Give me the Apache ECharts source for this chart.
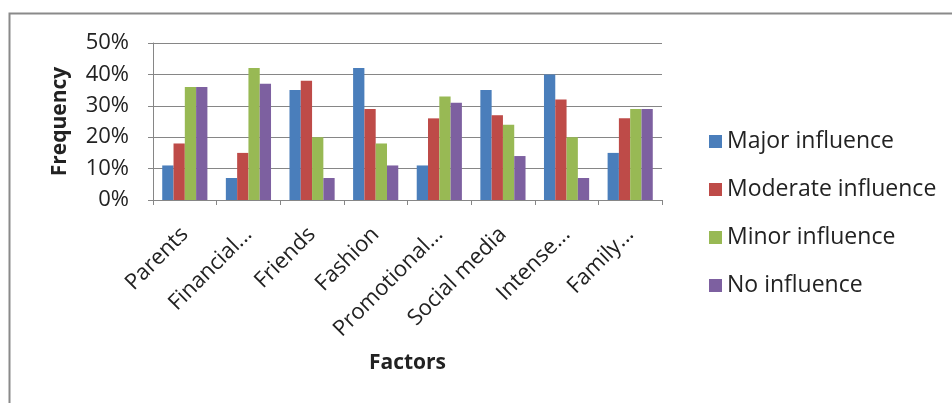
<!DOCTYPE html>
<html><head><meta charset="utf-8">
<script src="https://cdn.jsdelivr.net/npm/echarts@6/dist/echarts.min.js"></script>
<style>html,body{margin:0;padding:0;background:#fff}#c{width:952px;height:403px}</style>
</head><body><div id="c"></div>
<script>
const categories = ['Parents','Financial...','Friends','Fashion','Promotional...','Social media','Intense...','Family...'];
const major = [11, 7, 35, 42, 11, 35, 40, 15];
const moderate = [18, 15, 38, 29, 26, 27, 32, 26];
const minor = [36, 42, 20, 18, 33, 24, 20, 29];
const none = [36, 37, 7, 11, 31, 14, 7, 29];
const seriesNames = ['Major influence','Moderate influence','Minor influence','No influence'];
const yTicks = [0, 10, 20, 30, 40, 50];

const colors = ['#4a7ebb','#be4b48','#98b954','#7d60a0'];
const font = '"Open Sans", sans-serif';
const chart = echarts.init(document.getElementById('c'), null, {renderer:'canvas'});
const mk = (name, data, i) => ({name, type:'bar', data, barGap:'0%', barCategoryGap:'29%', itemStyle:{color:colors[i]}});
chart.setOption({
  animation:false,
  graphic:[{type:'rect', shape:{x:9.5,y:13.5,width:1000,height:500}, style:{fill:'none', stroke:'#8a8a8a', lineWidth:2}}],
  grid:{left:153, right:290, top:43, bottom:203},
  legend:{orient:'vertical', left:704, top:125, itemGap:25, itemWidth:13, itemHeight:13, icon:'rect',
    textStyle:{fontFamily:font, fontSize:23, color:'#222'}, data:seriesNames},
  xAxis:{type:'category', data:categories, name:'Factors', nameLocation:'middle', nameGap:153,
    nameTextStyle:{fontFamily:font, fontSize:21, fontWeight:'bold', color:'#222'},
    axisLine:{lineStyle:{color:'#868686'}}, axisTick:{show:true, length:5, lineStyle:{color:'#868686'}},
    axisLabel:{rotate:45, fontFamily:font, fontSize:22, color:'#222', margin:31}},
  yAxis:{type:'value', min:0, max:50, interval:10, name:'Frequency', nameLocation:'middle', nameGap:82,
    nameTextStyle:{fontFamily:font, fontSize:21, fontWeight:'bold', color:'#222'},
    axisLine:{show:true, lineStyle:{color:'#868686'}}, axisTick:{show:true, length:5, lineStyle:{color:'#868686'}},
    splitLine:{lineStyle:{color:'#868686'}},
    axisLabel:{formatter:v => yTicks.includes(v) ? v + '%' : '', fontFamily:font, fontSize:22, color:'#222', margin:24}},
  series:[mk(seriesNames[0], major, 0), mk(seriesNames[1], moderate, 1), mk(seriesNames[2], minor, 2), mk(seriesNames[3], none, 3)]
});
</script></body></html>
